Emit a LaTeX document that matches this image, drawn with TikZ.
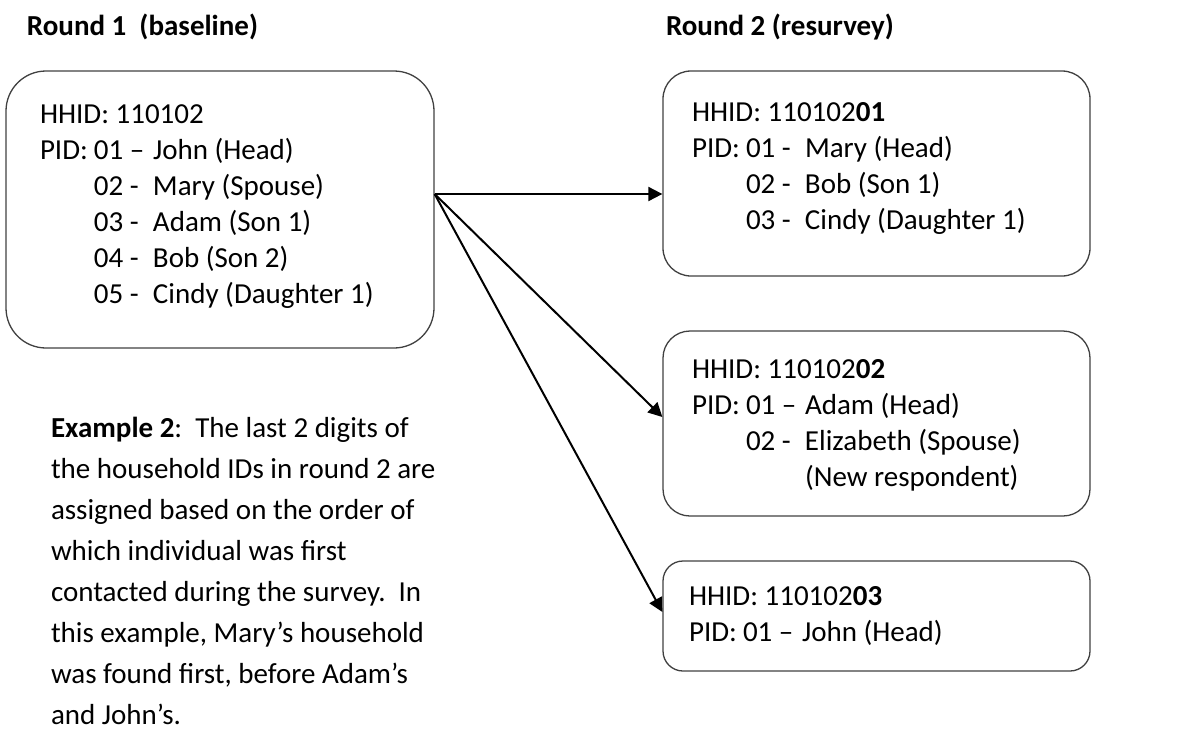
\documentclass[tikz,border=0pt]{standalone}
\usepackage{fontspec}
\setmainfont{Carlito}
\usetikzlibrary{arrows.meta}
\newcommand{\hhrow}[2]{\makebox[59pt][l]{#1}#2}
\newcommand{\pidlab}{\makebox[54pt][l]{PID:}}
\begin{document}
\begin{tikzpicture}[x=1pt,y=-1pt,>={Triangle[length=14pt,width=14pt]},line width=2pt,
  hhbox/.style={draw=black!75,line width=1.3pt,rounded corners=#1,inner sep=0pt},
  hhbox/.default=28pt,
  hhtxt/.style={anchor=north west,inner sep=0pt,align=left,font=\fontsize{29}{36}\selectfont},
  notetxt/.style={anchor=north west,inner sep=0pt,align=left,font=\fontsize{29}{41}\selectfont},
  roundhead/.style={anchor=base west,inner sep=0pt,font=\fontsize{29}{36}\selectfont\bfseries}]
  \useasboundingbox (0,0) rectangle (1192,740);
  \node[roundhead] (head1) at (26,35) {Round 1\ \ (baseline)};
  \node[roundhead] (head2) at (665,35) {Round 2 (resurvey)};
  % round 1 household
  \node[hhbox=40pt,minimum width=428pt,minimum height=277pt] (r1) at (220,209.5) {};
  \node[hhtxt] (r1txt) at (39,103.7) {HHID: 110102\\
    \pidlab\hhrow{01 –}{John (Head)}\\
    \hspace*{54pt}\hhrow{02 -}{Mary (Spouse)}\\
    \hspace*{54pt}\hhrow{03 -}{Adam (Son 1)}\\
    \hspace*{54pt}\hhrow{04 -}{Bob (Son 2)}\\
    \hspace*{54pt}\hhrow{05 -}{Cindy (Daughter 1)}};
  % round 2 households
  \node[hhbox=28pt,minimum width=427pt,minimum height=205pt] (r2a) at (876.5,173.5) {};
  \node[hhtxt] (r2atxt) at (691,101.7) {HHID: 110102\textbf{01}\\
    \pidlab\hhrow{01 -}{Mary (Head)}\\
    \hspace*{54pt}\hhrow{02 -}{Bob (Son 1)}\\
    \hspace*{54pt}\hhrow{03 -}{Cindy (Daughter 1)}};
  \node[hhbox=27pt,minimum width=427pt,minimum height=185pt] (r2b) at (876.5,423.5) {};
  \node[hhtxt] (r2btxt) at (691,358.7) {HHID: 110102\textbf{02}\\
    \pidlab\hhrow{01 –}{Adam (Head)}\\
    \hspace*{54pt}\hhrow{02 -}{Elizabeth (Spouse)}\\
    \hspace*{54pt}\hhrow{}{(New respondent)}};
  \node[hhbox=20pt,minimum width=427pt,minimum height=110pt] (r2c) at (876.5,616) {};
  \node[hhtxt] (r2ctxt) at (688,585.7) {HHID: 110102\textbf{03}\\
    \pidlab\hhrow{01 –}{John (Head)}};
  % arrows
  \coordinate (fork) at ([yshift=15.5pt]r1.east);
  \draw[->] (fork) -- (fork -| r2a.west);
  \draw[->] (fork) -- ([yshift=6.5pt]r2b.west);
  \draw[->] (fork) -- ([yshift=4pt]r2c.west);
  % note
  \node[notetxt] (note) at (50,416.5) {\textbf{Example 2}:\ \ The last 2 digits of\\
    the household IDs in round 2 are\\
    assigned based on the order of\\
    which individual was first\\
    contacted during the survey.\ \ In\\
    this example, Mary’s household\\
    was found first, before Adam’s\\
    and John’s.};
\end{tikzpicture}
\end{document}
